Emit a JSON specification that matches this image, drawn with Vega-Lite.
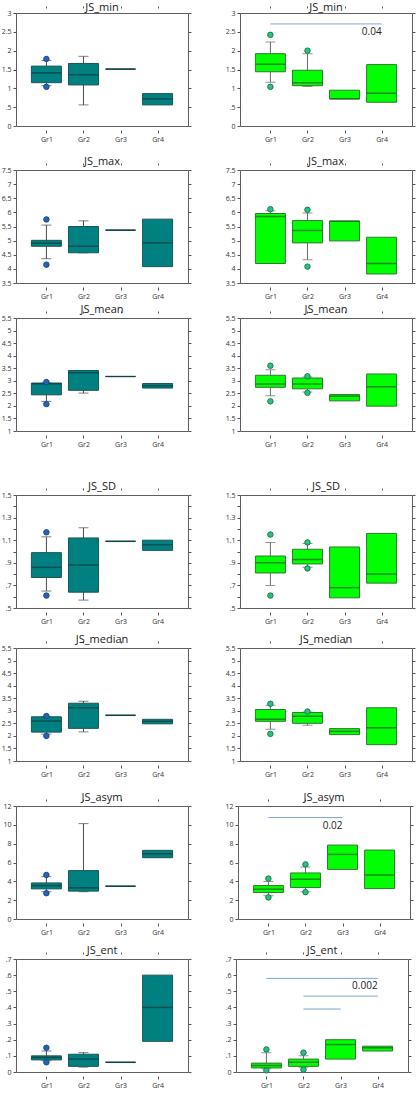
{
"$schema":"https://vega.github.io/schema/vega-lite/v6.json",
"padding":{"top":1,"left":0,"right":0,"bottom":0},
"datasets":{"d":[
{"k":"b","m":"JS_min","s":"L","g":"Gr1","lo":1.07,"q1":1.15,"med":1.41,"q3":1.59,"hi":1.74},
{"k":"b","m":"JS_min","s":"L","g":"Gr2","lo":0.56,"q1":1.09,"med":1.36,"q3":1.66,"hi":1.85},
{"k":"b","m":"JS_min","s":"L","g":"Gr3","q1":1.51,"med":1.51,"q3":1.51},
{"k":"b","m":"JS_min","s":"L","g":"Gr4","q1":0.56,"med":0.72,"q3":0.86},
{"k":"o","m":"JS_min","s":"L","g":"Gr1","v":1.78},
{"k":"o","m":"JS_min","s":"L","g":"Gr1","v":1.04},
{"k":"b","m":"JS_min","s":"R","g":"Gr1","lo":1.16,"q1":1.44,"med":1.64,"q3":1.92,"hi":2.23},
{"k":"b","m":"JS_min","s":"R","g":"Gr2","lo":1.05,"q1":1.07,"med":1.15,"q3":1.48,"hi":1.92},
{"k":"b","m":"JS_min","s":"R","g":"Gr3","q1":0.72,"med":0.72,"q3":0.95},
{"k":"b","m":"JS_min","s":"R","g":"Gr4","q1":0.63,"med":0.87,"q3":1.63},
{"k":"o","m":"JS_min","s":"R","g":"Gr1","v":2.42},
{"k":"o","m":"JS_min","s":"R","g":"Gr1","v":1.04},
{"k":"o","m":"JS_min","s":"R","g":"Gr2","v":2.0},
{"k":"s","m":"JS_min","s":"R","g":"Gr1","g2":"Gr4","y":2.71,"lab":"0.04"},

{"k":"b","m":"JS_max","s":"L","g":"Gr1","lo":4.36,"q1":4.80,"med":4.91,"q3":5.01,"hi":5.55},
{"k":"b","m":"JS_max","s":"L","g":"Gr2","lo":4.57,"q1":4.57,"med":4.80,"q3":5.50,"hi":5.70},
{"k":"b","m":"JS_max","s":"L","g":"Gr3","q1":5.37,"med":5.37,"q3":5.37},
{"k":"b","m":"JS_max","s":"L","g":"Gr4","q1":4.08,"med":4.92,"q3":5.76},
{"k":"o","m":"JS_max","s":"L","g":"Gr1","v":5.75},
{"k":"o","m":"JS_max","s":"L","g":"Gr1","v":4.15},
{"k":"b","m":"JS_max","s":"R","g":"Gr1","lo":4.19,"q1":4.19,"med":5.85,"q3":5.96,"hi":6.06},
{"k":"b","m":"JS_max","s":"R","g":"Gr2","lo":4.32,"q1":4.92,"med":5.36,"q3":5.71,"hi":5.98},
{"k":"b","m":"JS_max","s":"R","g":"Gr3","q1":4.99,"med":5.69,"q3":5.69},
{"k":"b","m":"JS_max","s":"R","g":"Gr4","q1":3.82,"med":4.19,"q3":5.12},
{"k":"o","m":"JS_max","s":"R","g":"Gr1","v":6.11},
{"k":"o","m":"JS_max","s":"R","g":"Gr2","v":6.09},
{"k":"o","m":"JS_max","s":"R","g":"Gr2","v":4.08},

{"k":"b","m":"JS_mean","s":"L","g":"Gr1","lo":2.18,"q1":2.44,"med":2.88,"q3":2.91,"hi":2.91},
{"k":"b","m":"JS_mean","s":"L","g":"Gr2","lo":2.51,"q1":2.62,"med":3.32,"q3":3.41,"hi":3.41},
{"k":"b","m":"JS_mean","s":"L","g":"Gr3","q1":3.17,"med":3.17,"q3":3.17},
{"k":"b","m":"JS_mean","s":"L","g":"Gr4","q1":2.71,"med":2.80,"q3":2.89},
{"k":"o","m":"JS_mean","s":"L","g":"Gr1","v":2.95},
{"k":"o","m":"JS_mean","s":"L","g":"Gr1","v":2.07},
{"k":"b","m":"JS_mean","s":"R","g":"Gr1","lo":2.40,"q1":2.74,"med":2.87,"q3":3.22,"hi":3.44},
{"k":"b","m":"JS_mean","s":"R","g":"Gr2","lo":2.55,"q1":2.68,"med":2.87,"q3":3.11,"hi":3.15},
{"k":"b","m":"JS_mean","s":"R","g":"Gr3","q1":2.20,"med":2.39,"q3":2.45},
{"k":"b","m":"JS_mean","s":"R","g":"Gr4","q1":1.99,"med":2.76,"q3":3.27},
{"k":"o","m":"JS_mean","s":"R","g":"Gr1","v":3.60},
{"k":"o","m":"JS_mean","s":"R","g":"Gr1","v":2.18},
{"k":"o","m":"JS_mean","s":"R","g":"Gr2","v":3.18},
{"k":"o","m":"JS_mean","s":"R","g":"Gr2","v":2.52},

{"k":"b","m":"JS_SD","s":"L","g":"Gr1","lo":0.65,"q1":0.77,"med":0.86,"q3":0.99,"hi":1.13},
{"k":"b","m":"JS_SD","s":"L","g":"Gr2","lo":0.57,"q1":0.64,"med":0.88,"q3":1.12,"hi":1.21},
{"k":"b","m":"JS_SD","s":"L","g":"Gr3","q1":1.09,"med":1.09,"q3":1.09},
{"k":"b","m":"JS_SD","s":"L","g":"Gr4","q1":1.01,"med":1.06,"q3":1.10},
{"k":"o","m":"JS_SD","s":"L","g":"Gr1","v":1.17},
{"k":"o","m":"JS_SD","s":"L","g":"Gr1","v":0.61},
{"k":"b","m":"JS_SD","s":"R","g":"Gr1","lo":0.70,"q1":0.81,"med":0.90,"q3":0.96,"hi":1.08},
{"k":"b","m":"JS_SD","s":"R","g":"Gr2","lo":0.86,"q1":0.89,"med":0.93,"q3":1.02,"hi":1.07},
{"k":"b","m":"JS_SD","s":"R","g":"Gr3","q1":0.59,"med":0.68,"q3":1.04},
{"k":"b","m":"JS_SD","s":"R","g":"Gr4","q1":0.72,"med":0.80,"q3":1.16},
{"k":"o","m":"JS_SD","s":"R","g":"Gr1","v":1.15},
{"k":"o","m":"JS_SD","s":"R","g":"Gr1","v":0.61},
{"k":"o","m":"JS_SD","s":"R","g":"Gr2","v":1.08},
{"k":"o","m":"JS_SD","s":"R","g":"Gr2","v":0.85},

{"k":"b","m":"JS_median","s":"L","g":"Gr1","lo":2.07,"q1":2.15,"med":2.59,"q3":2.76,"hi":2.76},
{"k":"b","m":"JS_median","s":"L","g":"Gr2","lo":2.16,"q1":2.30,"med":3.12,"q3":3.30,"hi":3.38},
{"k":"b","m":"JS_median","s":"L","g":"Gr3","q1":2.82,"med":2.82,"q3":2.82},
{"k":"b","m":"JS_median","s":"L","g":"Gr4","q1":2.48,"med":2.58,"q3":2.66},
{"k":"o","m":"JS_median","s":"L","g":"Gr1","v":2.79},
{"k":"o","m":"JS_median","s":"L","g":"Gr1","v":2.00},
{"k":"b","m":"JS_median","s":"R","g":"Gr1","lo":2.26,"q1":2.58,"med":2.66,"q3":3.05,"hi":3.22},
{"k":"b","m":"JS_median","s":"R","g":"Gr2","lo":2.42,"q1":2.50,"med":2.78,"q3":2.93,"hi":2.95},
{"k":"b","m":"JS_median","s":"R","g":"Gr3","q1":2.05,"med":2.18,"q3":2.29},
{"k":"b","m":"JS_median","s":"R","g":"Gr4","q1":1.65,"med":2.32,"q3":3.12},
{"k":"o","m":"JS_median","s":"R","g":"Gr1","v":3.28},
{"k":"o","m":"JS_median","s":"R","g":"Gr1","v":2.08},
{"k":"o","m":"JS_median","s":"R","g":"Gr2","v":2.97},

{"k":"b","m":"JS_asym","s":"L","g":"Gr1","lo":2.9,"q1":3.20,"med":3.55,"q3":3.83,"hi":4.5},
{"k":"b","m":"JS_asym","s":"L","g":"Gr2","lo":2.9,"q1":2.96,"med":3.31,"q3":5.14,"hi":10.13},
{"k":"b","m":"JS_asym","s":"L","g":"Gr3","q1":3.48,"med":3.48,"q3":3.48},
{"k":"b","m":"JS_asym","s":"L","g":"Gr4","q1":6.51,"med":6.93,"q3":7.29},
{"k":"o","m":"JS_asym","s":"L","g":"Gr1","v":4.68},
{"k":"o","m":"JS_asym","s":"L","g":"Gr1","v":2.74},
{"k":"b","m":"JS_asym","s":"R","g":"Gr1","lo":2.46,"q1":2.81,"med":3.16,"q3":3.55,"hi":3.97},
{"k":"b","m":"JS_asym","s":"R","g":"Gr2","lo":2.89,"q1":3.34,"med":4.22,"q3":4.89,"hi":5.52},
{"k":"b","m":"JS_asym","s":"R","g":"Gr3","q1":5.27,"med":6.86,"q3":7.85},
{"k":"b","m":"JS_asym","s":"R","g":"Gr4","q1":3.23,"med":4.68,"q3":7.32},
{"k":"o","m":"JS_asym","s":"R","g":"Gr1","v":4.29},
{"k":"o","m":"JS_asym","s":"R","g":"Gr1","v":2.29},
{"k":"o","m":"JS_asym","s":"R","g":"Gr2","v":5.80},
{"k":"o","m":"JS_asym","s":"R","g":"Gr2","v":2.85},
{"k":"s","m":"JS_asym","s":"R","g":"Gr1","g2":"Gr3","y":10.77,"lab":"0.02"},

{"k":"b","m":"JS_ent","s":"L","g":"Gr1","lo":0.07,"q1":0.075,"med":0.09,"q3":0.10,"hi":0.13},
{"k":"b","m":"JS_ent","s":"L","g":"Gr2","lo":0.03,"q1":0.035,"med":0.08,"q3":0.11,"hi":0.12},
{"k":"b","m":"JS_ent","s":"L","g":"Gr3","q1":0.06,"med":0.06,"q3":0.06},
{"k":"b","m":"JS_ent","s":"L","g":"Gr4","q1":0.19,"med":0.40,"q3":0.60},
{"k":"o","m":"JS_ent","s":"L","g":"Gr1","v":0.15},
{"k":"o","m":"JS_ent","s":"L","g":"Gr1","v":0.06},
{"k":"b","m":"JS_ent","s":"R","g":"Gr1","lo":0.02,"q1":0.025,"med":0.04,"q3":0.055,"hi":0.12},
{"k":"b","m":"JS_ent","s":"R","g":"Gr2","lo":0.03,"q1":0.035,"med":0.06,"q3":0.08,"hi":0.10},
{"k":"b","m":"JS_ent","s":"R","g":"Gr3","q1":0.08,"med":0.17,"q3":0.20},
{"k":"b","m":"JS_ent","s":"R","g":"Gr4","q1":0.13,"med":0.15,"q3":0.16},
{"k":"o","m":"JS_ent","s":"R","g":"Gr1","v":0.14},
{"k":"o","m":"JS_ent","s":"R","g":"Gr1","v":0.01},
{"k":"o","m":"JS_ent","s":"R","g":"Gr2","v":0.12},
{"k":"o","m":"JS_ent","s":"R","g":"Gr2","v":0.015},
{"k":"s","m":"JS_ent","s":"R","g":"Gr1","g2":"Gr4","y":0.58,"lab":"0.002"},
{"k":"s","m":"JS_ent","s":"R","g":"Gr2","g2":"Gr4","y":0.47,"lab":""},
{"k":"s","m":"JS_ent","s":"R","g":"Gr2","g2":"Gr3","y":0.39,"lab":""}
]},
"data":{"name":"d"},
"config":{
 "font":"Open Sans",
 "view":{"stroke":"#5f5f5f","strokeWidth":1},
 "axis":{"labelFontSize":7,"labelColor":"#333","tickColor":"#555","tickSize":3,"domain":false,"grid":false,"title":null,"labelPadding":2,"labelFont":"Open Sans"},
 "axisX":{"labelAngle":0},
 "header":{"labelFontSize":11,"labelFont":"Open Sans","labelColor":"#222","labelPadding":-4,"title":null}
},
"spacing":33,
"vconcat":[
{"spacing":4,"vconcat":[
{"spacing":13,"vconcat":[

{"transform":[{"filter":"datum.m==='JS_min'"}],
 "facet":{"column":{"field":"s","type":"nominal","title":null,"header":{"labelExpr":"'JS_min'","labelPadding":-7}}},
 "spacing":32,"resolve":{"axis":{"y":"independent"}},
 "spec":{"width":172,"height":113,"resolve":{"axis":{"x":"independent","y":"independent"}},
 "layer":[
  {"transform":[{"filter":"datum.k==='b' && isValid(datum.hi)"}],"mark":{"type":"rule","strokeWidth":1},
   "encoding":{"x":{"field":"g","type":"nominal","scale":{"type":"point","domain":["Gr1","Gr2","Gr3","Gr4"],"padding":0.82},"axis":null},"y":{"field":"lo","type":"quantitative","scale":{"domain":[0,3],"nice":false,"zero":false},"axis":null},"y2":{"field":"hi"},"color":{"condition":{"test":"datum.s==='L'","value":"#4a4a4a"},"value":"#6a6a6a"}}},
  {"transform":[{"filter":"datum.k==='b' && isValid(datum.hi)"},{"fold":["lo","hi"],"as":["w","wv"]}],"mark":{"type":"tick","size":10,"thickness":1},
   "encoding":{"x":{"field":"g","type":"nominal","scale":{"type":"point","domain":["Gr1","Gr2","Gr3","Gr4"],"padding":0.82},"axis":null},"y":{"field":"wv","type":"quantitative","scale":{"domain":[0,3],"nice":false,"zero":false},"axis":null},"color":{"condition":{"test":"datum.s==='L'","value":"#4a4a4a"},"value":"#6a6a6a"}}},
  {"transform":[{"filter":"datum.k==='b'"}],"mark":{"type":"bar","width":30,"strokeWidth":1},
   "encoding":{"x":{"field":"g","type":"nominal","scale":{"type":"point","domain":["Gr1","Gr2","Gr3","Gr4"],"padding":0.82},"axis":null},"y":{"field":"q1","type":"quantitative","scale":{"domain":[0,3],"nice":false,"zero":false},"axis":null},"y2":{"field":"q3"},"fill":{"condition":{"test":"datum.s==='L'","value":"#008080"},"value":"#00ff00"},"stroke":{"condition":{"test":"datum.s==='L'","value":"#1b5656"},"value":"#2f7a2f"}}},
  {"transform":[{"filter":"datum.k==='b'"}],"mark":{"type":"tick","size":30,"thickness":1.5},
   "encoding":{"x":{"field":"g","type":"nominal","scale":{"type":"point","domain":["Gr1","Gr2","Gr3","Gr4"],"padding":0.82},"axis":null},"y":{"field":"med","type":"quantitative","scale":{"domain":[0,3],"nice":false,"zero":false},"axis":null},"color":{"condition":{"test":"datum.s==='L'","value":"#0d3a3a"},"value":"#1c5a1c"}}},
  {"transform":[{"filter":"datum.k==='o'"}],"mark":{"type":"point","filled":true,"size":30,"strokeWidth":1,"opacity":1},
   "encoding":{"x":{"field":"g","type":"nominal","scale":{"type":"point","domain":["Gr1","Gr2","Gr3","Gr4"],"padding":0.82},"axis":null},"y":{"field":"v","type":"quantitative","scale":{"domain":[0,3],"nice":false,"zero":false},"axis":null},"fill":{"condition":{"test":"datum.s==='L'","value":"#2563b5"},"value":"#27c47f"},"stroke":{"condition":{"test":"datum.s==='L'","value":"#1a4a90"},"value":"#1a7a50"}}},
  {"transform":[{"filter":"datum.k==='s'"}],"mark":{"type":"rule","color":"#7da4d6","strokeWidth":1},
   "encoding":{"x":{"field":"g","type":"nominal","scale":{"type":"point","domain":["Gr1","Gr2","Gr3","Gr4"],"padding":0.82},"axis":null},"x2":{"field":"g2"},"y":{"field":"y","type":"quantitative","scale":{"domain":[0,3],"nice":false,"zero":false},"axis":null}}},
  {"transform":[{"filter":"datum.k==='s'"}],"mark":{"type":"text","align":"right","baseline":"top","dy":3,"fontSize":10,"color":"#222"},
   "encoding":{"x":{"field":"g2","type":"nominal","scale":{"type":"point","domain":["Gr1","Gr2","Gr3","Gr4"],"padding":0.82},"axis":null},"y":{"field":"y","type":"quantitative","scale":{"domain":[0,3],"nice":false,"zero":false},"axis":null},"text":{"field":"lab"}}},
  {"transform":[{"filter":"datum.k==='b'"}],"mark":{"type":"tick","opacity":0},
   "encoding":{"x":{"field":"g","type":"nominal","scale":{"type":"point","domain":["Gr1","Gr2","Gr3","Gr4"],"padding":0.82},"axis":{"orient":"bottom"}},"y":{"field":"med","type":"quantitative","scale":{"domain":[0,3],"nice":false,"zero":false},"axis":{"orient":"left","values":[0,0.5,1,1.5,2,2.5,3],"format":"~g","labelExpr":"datum.value>0 && datum.value<1 ? replace(datum.label,'0.','.') : datum.label"}}}},
  {"transform":[{"filter":"datum.k==='b'"}],"mark":{"type":"tick","opacity":0},
   "encoding":{"x":{"field":"g","type":"nominal","scale":{"type":"point","domain":["Gr1","Gr2","Gr3","Gr4"],"padding":0.82},"axis":{"orient":"top","labels":false,"tickSize":2}},"y":{"field":"med","type":"quantitative","scale":{"domain":[0,3],"nice":false,"zero":false},"axis":{"orient":"right","labels":false,"values":[0,0.5,1,1.5,2,2.5,3]}}}}
 ]}},

{"transform":[{"filter":"datum.m==='JS_max'"}],
 "facet":{"column":{"field":"s","type":"nominal","title":null,"header":{"labelExpr":"'JS_max'"}}},
 "spacing":32,"resolve":{"axis":{"y":"independent"}},
 "spec":{"width":172,"height":113,"resolve":{"axis":{"x":"independent","y":"independent"}},
 "layer":[
  {"transform":[{"filter":"datum.k==='b' && isValid(datum.hi)"}],"mark":{"type":"rule","strokeWidth":1},
   "encoding":{"x":{"field":"g","type":"nominal","scale":{"type":"point","domain":["Gr1","Gr2","Gr3","Gr4"],"padding":0.82},"axis":null},"y":{"field":"lo","type":"quantitative","scale":{"domain":[3.5,7.5],"nice":false,"zero":false},"axis":null},"y2":{"field":"hi"},"color":{"condition":{"test":"datum.s==='L'","value":"#4a4a4a"},"value":"#6a6a6a"}}},
  {"transform":[{"filter":"datum.k==='b' && isValid(datum.hi)"},{"fold":["lo","hi"],"as":["w","wv"]}],"mark":{"type":"tick","size":10,"thickness":1},
   "encoding":{"x":{"field":"g","type":"nominal","scale":{"type":"point","domain":["Gr1","Gr2","Gr3","Gr4"],"padding":0.82},"axis":null},"y":{"field":"wv","type":"quantitative","scale":{"domain":[3.5,7.5],"nice":false,"zero":false},"axis":null},"color":{"condition":{"test":"datum.s==='L'","value":"#4a4a4a"},"value":"#6a6a6a"}}},
  {"transform":[{"filter":"datum.k==='b'"}],"mark":{"type":"bar","width":30,"strokeWidth":1},
   "encoding":{"x":{"field":"g","type":"nominal","scale":{"type":"point","domain":["Gr1","Gr2","Gr3","Gr4"],"padding":0.82},"axis":null},"y":{"field":"q1","type":"quantitative","scale":{"domain":[3.5,7.5],"nice":false,"zero":false},"axis":null},"y2":{"field":"q3"},"fill":{"condition":{"test":"datum.s==='L'","value":"#008080"},"value":"#00ff00"},"stroke":{"condition":{"test":"datum.s==='L'","value":"#1b5656"},"value":"#2f7a2f"}}},
  {"transform":[{"filter":"datum.k==='b'"}],"mark":{"type":"tick","size":30,"thickness":1.5},
   "encoding":{"x":{"field":"g","type":"nominal","scale":{"type":"point","domain":["Gr1","Gr2","Gr3","Gr4"],"padding":0.82},"axis":null},"y":{"field":"med","type":"quantitative","scale":{"domain":[3.5,7.5],"nice":false,"zero":false},"axis":null},"color":{"condition":{"test":"datum.s==='L'","value":"#0d3a3a"},"value":"#1c5a1c"}}},
  {"transform":[{"filter":"datum.k==='o'"}],"mark":{"type":"point","filled":true,"size":30,"strokeWidth":1,"opacity":1},
   "encoding":{"x":{"field":"g","type":"nominal","scale":{"type":"point","domain":["Gr1","Gr2","Gr3","Gr4"],"padding":0.82},"axis":null},"y":{"field":"v","type":"quantitative","scale":{"domain":[3.5,7.5],"nice":false,"zero":false},"axis":null},"fill":{"condition":{"test":"datum.s==='L'","value":"#2563b5"},"value":"#27c47f"},"stroke":{"condition":{"test":"datum.s==='L'","value":"#1a4a90"},"value":"#1a7a50"}}},
  {"transform":[{"filter":"datum.k==='b'"}],"mark":{"type":"tick","opacity":0},
   "encoding":{"x":{"field":"g","type":"nominal","scale":{"type":"point","domain":["Gr1","Gr2","Gr3","Gr4"],"padding":0.82},"axis":{"orient":"bottom"}},"y":{"field":"med","type":"quantitative","scale":{"domain":[3.5,7.5],"nice":false,"zero":false},"axis":{"orient":"left","values":[3.5,4,4.5,5,5.5,6,6.5,7,7.5],"format":"~g"}}}},
  {"transform":[{"filter":"datum.k==='b'"}],"mark":{"type":"tick","opacity":0},
   "encoding":{"x":{"field":"g","type":"nominal","scale":{"type":"point","domain":["Gr1","Gr2","Gr3","Gr4"],"padding":0.82},"axis":{"orient":"top","labels":false,"tickSize":2}},"y":{"field":"med","type":"quantitative","scale":{"domain":[3.5,7.5],"nice":false,"zero":false},"axis":{"orient":"right","labels":false,"values":[3.5,4,4.5,5,5.5,6,6.5,7,7.5]}}}}
 ]}}
]},

{"transform":[{"filter":"datum.m==='JS_mean'"}],
 "facet":{"column":{"field":"s","type":"nominal","title":null,"header":{"labelExpr":"'JS_mean'"}}},
 "spacing":32,"resolve":{"axis":{"y":"independent"}},
 "spec":{"width":172,"height":113,"resolve":{"axis":{"x":"independent","y":"independent"}},
 "layer":[
  {"transform":[{"filter":"datum.k==='b' && isValid(datum.hi)"}],"mark":{"type":"rule","strokeWidth":1},
   "encoding":{"x":{"field":"g","type":"nominal","scale":{"type":"point","domain":["Gr1","Gr2","Gr3","Gr4"],"padding":0.82},"axis":null},"y":{"field":"lo","type":"quantitative","scale":{"domain":[1,5.5],"nice":false,"zero":false},"axis":null},"y2":{"field":"hi"},"color":{"condition":{"test":"datum.s==='L'","value":"#4a4a4a"},"value":"#6a6a6a"}}},
  {"transform":[{"filter":"datum.k==='b' && isValid(datum.hi)"},{"fold":["lo","hi"],"as":["w","wv"]}],"mark":{"type":"tick","size":10,"thickness":1},
   "encoding":{"x":{"field":"g","type":"nominal","scale":{"type":"point","domain":["Gr1","Gr2","Gr3","Gr4"],"padding":0.82},"axis":null},"y":{"field":"wv","type":"quantitative","scale":{"domain":[1,5.5],"nice":false,"zero":false},"axis":null},"color":{"condition":{"test":"datum.s==='L'","value":"#4a4a4a"},"value":"#6a6a6a"}}},
  {"transform":[{"filter":"datum.k==='b'"}],"mark":{"type":"bar","width":30,"strokeWidth":1},
   "encoding":{"x":{"field":"g","type":"nominal","scale":{"type":"point","domain":["Gr1","Gr2","Gr3","Gr4"],"padding":0.82},"axis":null},"y":{"field":"q1","type":"quantitative","scale":{"domain":[1,5.5],"nice":false,"zero":false},"axis":null},"y2":{"field":"q3"},"fill":{"condition":{"test":"datum.s==='L'","value":"#008080"},"value":"#00ff00"},"stroke":{"condition":{"test":"datum.s==='L'","value":"#1b5656"},"value":"#2f7a2f"}}},
  {"transform":[{"filter":"datum.k==='b'"}],"mark":{"type":"tick","size":30,"thickness":1.5},
   "encoding":{"x":{"field":"g","type":"nominal","scale":{"type":"point","domain":["Gr1","Gr2","Gr3","Gr4"],"padding":0.82},"axis":null},"y":{"field":"med","type":"quantitative","scale":{"domain":[1,5.5],"nice":false,"zero":false},"axis":null},"color":{"condition":{"test":"datum.s==='L'","value":"#0d3a3a"},"value":"#1c5a1c"}}},
  {"transform":[{"filter":"datum.k==='o'"}],"mark":{"type":"point","filled":true,"size":30,"strokeWidth":1,"opacity":1},
   "encoding":{"x":{"field":"g","type":"nominal","scale":{"type":"point","domain":["Gr1","Gr2","Gr3","Gr4"],"padding":0.82},"axis":null},"y":{"field":"v","type":"quantitative","scale":{"domain":[1,5.5],"nice":false,"zero":false},"axis":null},"fill":{"condition":{"test":"datum.s==='L'","value":"#2563b5"},"value":"#27c47f"},"stroke":{"condition":{"test":"datum.s==='L'","value":"#1a4a90"},"value":"#1a7a50"}}},
  {"transform":[{"filter":"datum.k==='b'"}],"mark":{"type":"tick","opacity":0},
   "encoding":{"x":{"field":"g","type":"nominal","scale":{"type":"point","domain":["Gr1","Gr2","Gr3","Gr4"],"padding":0.82},"axis":{"orient":"bottom"}},"y":{"field":"med","type":"quantitative","scale":{"domain":[1,5.5],"nice":false,"zero":false},"axis":{"orient":"left","values":[1,1.5,2,2.5,3,3.5,4,4.5,5,5.5],"format":"~g"}}}},
  {"transform":[{"filter":"datum.k==='b'"}],"mark":{"type":"tick","opacity":0},
   "encoding":{"x":{"field":"g","type":"nominal","scale":{"type":"point","domain":["Gr1","Gr2","Gr3","Gr4"],"padding":0.82},"axis":{"orient":"top","labels":false,"tickSize":2}},"y":{"field":"med","type":"quantitative","scale":{"domain":[1,5.5],"nice":false,"zero":false},"axis":{"orient":"right","labels":false,"values":[1,1.5,2,2.5,3,3.5,4,4.5,5,5.5]}}}}
 ]}}
]},

{"spacing":9,"vconcat":[

{"transform":[{"filter":"datum.m==='JS_SD'"}],
 "facet":{"column":{"field":"s","type":"nominal","title":null,"header":{"labelExpr":"'JS_SD'"}}},
 "spacing":32,"resolve":{"axis":{"y":"independent"}},
 "spec":{"width":172,"height":113,"resolve":{"axis":{"x":"independent","y":"independent"}},
 "layer":[
  {"transform":[{"filter":"datum.k==='b' && isValid(datum.hi)"}],"mark":{"type":"rule","strokeWidth":1},
   "encoding":{"x":{"field":"g","type":"nominal","scale":{"type":"point","domain":["Gr1","Gr2","Gr3","Gr4"],"padding":0.82},"axis":null},"y":{"field":"lo","type":"quantitative","scale":{"domain":[0.5,1.5],"nice":false,"zero":false},"axis":null},"y2":{"field":"hi"},"color":{"condition":{"test":"datum.s==='L'","value":"#4a4a4a"},"value":"#6a6a6a"}}},
  {"transform":[{"filter":"datum.k==='b' && isValid(datum.hi)"},{"fold":["lo","hi"],"as":["w","wv"]}],"mark":{"type":"tick","size":10,"thickness":1},
   "encoding":{"x":{"field":"g","type":"nominal","scale":{"type":"point","domain":["Gr1","Gr2","Gr3","Gr4"],"padding":0.82},"axis":null},"y":{"field":"wv","type":"quantitative","scale":{"domain":[0.5,1.5],"nice":false,"zero":false},"axis":null},"color":{"condition":{"test":"datum.s==='L'","value":"#4a4a4a"},"value":"#6a6a6a"}}},
  {"transform":[{"filter":"datum.k==='b'"}],"mark":{"type":"bar","width":30,"strokeWidth":1},
   "encoding":{"x":{"field":"g","type":"nominal","scale":{"type":"point","domain":["Gr1","Gr2","Gr3","Gr4"],"padding":0.82},"axis":null},"y":{"field":"q1","type":"quantitative","scale":{"domain":[0.5,1.5],"nice":false,"zero":false},"axis":null},"y2":{"field":"q3"},"fill":{"condition":{"test":"datum.s==='L'","value":"#008080"},"value":"#00ff00"},"stroke":{"condition":{"test":"datum.s==='L'","value":"#1b5656"},"value":"#2f7a2f"}}},
  {"transform":[{"filter":"datum.k==='b'"}],"mark":{"type":"tick","size":30,"thickness":1.5},
   "encoding":{"x":{"field":"g","type":"nominal","scale":{"type":"point","domain":["Gr1","Gr2","Gr3","Gr4"],"padding":0.82},"axis":null},"y":{"field":"med","type":"quantitative","scale":{"domain":[0.5,1.5],"nice":false,"zero":false},"axis":null},"color":{"condition":{"test":"datum.s==='L'","value":"#0d3a3a"},"value":"#1c5a1c"}}},
  {"transform":[{"filter":"datum.k==='o'"}],"mark":{"type":"point","filled":true,"size":30,"strokeWidth":1,"opacity":1},
   "encoding":{"x":{"field":"g","type":"nominal","scale":{"type":"point","domain":["Gr1","Gr2","Gr3","Gr4"],"padding":0.82},"axis":null},"y":{"field":"v","type":"quantitative","scale":{"domain":[0.5,1.5],"nice":false,"zero":false},"axis":null},"fill":{"condition":{"test":"datum.s==='L'","value":"#2563b5"},"value":"#27c47f"},"stroke":{"condition":{"test":"datum.s==='L'","value":"#1a4a90"},"value":"#1a7a50"}}},
  {"transform":[{"filter":"datum.k==='b'"}],"mark":{"type":"tick","opacity":0},
   "encoding":{"x":{"field":"g","type":"nominal","scale":{"type":"point","domain":["Gr1","Gr2","Gr3","Gr4"],"padding":0.82},"axis":{"orient":"bottom"}},"y":{"field":"med","type":"quantitative","scale":{"domain":[0.5,1.5],"nice":false,"zero":false},"axis":{"orient":"left","values":[0.5,0.6,0.7,0.8,0.9,1,1.1,1.2,1.3,1.4,1.5],"format":"~g","labelExpr":"round(datum.value*10) % 2 == 1 ? (datum.value<1 ? replace(datum.label,'0.','.') : datum.label) : ''"}}}},
  {"transform":[{"filter":"datum.k==='b'"}],"mark":{"type":"tick","opacity":0},
   "encoding":{"x":{"field":"g","type":"nominal","scale":{"type":"point","domain":["Gr1","Gr2","Gr3","Gr4"],"padding":0.82},"axis":{"orient":"top","labels":false,"tickSize":2}},"y":{"field":"med","type":"quantitative","scale":{"domain":[0.5,1.5],"nice":false,"zero":false},"axis":{"orient":"right","labels":false,"values":[0.5,0.6,0.7,0.8,0.9,1,1.1,1.2,1.3,1.4,1.5]}}}}
 ]}},

{"spacing":14,"vconcat":[

{"transform":[{"filter":"datum.m==='JS_median'"}],
 "facet":{"column":{"field":"s","type":"nominal","title":null,"header":{"labelExpr":"'JS_median'"}}},
 "spacing":32,"resolve":{"axis":{"y":"independent"}},
 "spec":{"width":172,"height":113,"resolve":{"axis":{"x":"independent","y":"independent"}},
 "layer":[
  {"transform":[{"filter":"datum.k==='b' && isValid(datum.hi)"}],"mark":{"type":"rule","strokeWidth":1},
   "encoding":{"x":{"field":"g","type":"nominal","scale":{"type":"point","domain":["Gr1","Gr2","Gr3","Gr4"],"padding":0.82},"axis":null},"y":{"field":"lo","type":"quantitative","scale":{"domain":[1,5.5],"nice":false,"zero":false},"axis":null},"y2":{"field":"hi"},"color":{"condition":{"test":"datum.s==='L'","value":"#4a4a4a"},"value":"#6a6a6a"}}},
  {"transform":[{"filter":"datum.k==='b' && isValid(datum.hi)"},{"fold":["lo","hi"],"as":["w","wv"]}],"mark":{"type":"tick","size":10,"thickness":1},
   "encoding":{"x":{"field":"g","type":"nominal","scale":{"type":"point","domain":["Gr1","Gr2","Gr3","Gr4"],"padding":0.82},"axis":null},"y":{"field":"wv","type":"quantitative","scale":{"domain":[1,5.5],"nice":false,"zero":false},"axis":null},"color":{"condition":{"test":"datum.s==='L'","value":"#4a4a4a"},"value":"#6a6a6a"}}},
  {"transform":[{"filter":"datum.k==='b'"}],"mark":{"type":"bar","width":30,"strokeWidth":1},
   "encoding":{"x":{"field":"g","type":"nominal","scale":{"type":"point","domain":["Gr1","Gr2","Gr3","Gr4"],"padding":0.82},"axis":null},"y":{"field":"q1","type":"quantitative","scale":{"domain":[1,5.5],"nice":false,"zero":false},"axis":null},"y2":{"field":"q3"},"fill":{"condition":{"test":"datum.s==='L'","value":"#008080"},"value":"#00ff00"},"stroke":{"condition":{"test":"datum.s==='L'","value":"#1b5656"},"value":"#2f7a2f"}}},
  {"transform":[{"filter":"datum.k==='b'"}],"mark":{"type":"tick","size":30,"thickness":1.5},
   "encoding":{"x":{"field":"g","type":"nominal","scale":{"type":"point","domain":["Gr1","Gr2","Gr3","Gr4"],"padding":0.82},"axis":null},"y":{"field":"med","type":"quantitative","scale":{"domain":[1,5.5],"nice":false,"zero":false},"axis":null},"color":{"condition":{"test":"datum.s==='L'","value":"#0d3a3a"},"value":"#1c5a1c"}}},
  {"transform":[{"filter":"datum.k==='o'"}],"mark":{"type":"point","filled":true,"size":30,"strokeWidth":1,"opacity":1},
   "encoding":{"x":{"field":"g","type":"nominal","scale":{"type":"point","domain":["Gr1","Gr2","Gr3","Gr4"],"padding":0.82},"axis":null},"y":{"field":"v","type":"quantitative","scale":{"domain":[1,5.5],"nice":false,"zero":false},"axis":null},"fill":{"condition":{"test":"datum.s==='L'","value":"#2563b5"},"value":"#27c47f"},"stroke":{"condition":{"test":"datum.s==='L'","value":"#1a4a90"},"value":"#1a7a50"}}},
  {"transform":[{"filter":"datum.k==='b'"}],"mark":{"type":"tick","opacity":0},
   "encoding":{"x":{"field":"g","type":"nominal","scale":{"type":"point","domain":["Gr1","Gr2","Gr3","Gr4"],"padding":0.82},"axis":{"orient":"bottom"}},"y":{"field":"med","type":"quantitative","scale":{"domain":[1,5.5],"nice":false,"zero":false},"axis":{"orient":"left","values":[1,1.5,2,2.5,3,3.5,4,4.5,5,5.5],"format":"~g"}}}},
  {"transform":[{"filter":"datum.k==='b'"}],"mark":{"type":"tick","opacity":0},
   "encoding":{"x":{"field":"g","type":"nominal","scale":{"type":"point","domain":["Gr1","Gr2","Gr3","Gr4"],"padding":0.82},"axis":{"orient":"top","labels":false,"tickSize":2}},"y":{"field":"med","type":"quantitative","scale":{"domain":[1,5.5],"nice":false,"zero":false},"axis":{"orient":"right","labels":false,"values":[1,1.5,2,2.5,3,3.5,4,4.5,5,5.5]}}}}
 ]}},

{"transform":[{"filter":"datum.m==='JS_asym'"}],
 "facet":{"column":{"field":"s","type":"nominal","title":null,"header":{"labelExpr":"'JS_asym'"}}},
 "spacing":32,"resolve":{"axis":{"y":"independent"}},
 "spec":{"width":172,"height":113,"resolve":{"axis":{"x":"independent","y":"independent"}},
 "layer":[
  {"transform":[{"filter":"datum.k==='b' && isValid(datum.hi)"}],"mark":{"type":"rule","strokeWidth":1},
   "encoding":{"x":{"field":"g","type":"nominal","scale":{"type":"point","domain":["Gr1","Gr2","Gr3","Gr4"],"padding":0.82},"axis":null},"y":{"field":"lo","type":"quantitative","scale":{"domain":[0,12],"nice":false,"zero":false},"axis":null},"y2":{"field":"hi"},"color":{"condition":{"test":"datum.s==='L'","value":"#4a4a4a"},"value":"#6a6a6a"}}},
  {"transform":[{"filter":"datum.k==='b' && isValid(datum.hi)"},{"fold":["lo","hi"],"as":["w","wv"]}],"mark":{"type":"tick","size":10,"thickness":1},
   "encoding":{"x":{"field":"g","type":"nominal","scale":{"type":"point","domain":["Gr1","Gr2","Gr3","Gr4"],"padding":0.82},"axis":null},"y":{"field":"wv","type":"quantitative","scale":{"domain":[0,12],"nice":false,"zero":false},"axis":null},"color":{"condition":{"test":"datum.s==='L'","value":"#4a4a4a"},"value":"#6a6a6a"}}},
  {"transform":[{"filter":"datum.k==='b'"}],"mark":{"type":"bar","width":30,"strokeWidth":1},
   "encoding":{"x":{"field":"g","type":"nominal","scale":{"type":"point","domain":["Gr1","Gr2","Gr3","Gr4"],"padding":0.82},"axis":null},"y":{"field":"q1","type":"quantitative","scale":{"domain":[0,12],"nice":false,"zero":false},"axis":null},"y2":{"field":"q3"},"fill":{"condition":{"test":"datum.s==='L'","value":"#008080"},"value":"#00ff00"},"stroke":{"condition":{"test":"datum.s==='L'","value":"#1b5656"},"value":"#2f7a2f"}}},
  {"transform":[{"filter":"datum.k==='b'"}],"mark":{"type":"tick","size":30,"thickness":1.5},
   "encoding":{"x":{"field":"g","type":"nominal","scale":{"type":"point","domain":["Gr1","Gr2","Gr3","Gr4"],"padding":0.82},"axis":null},"y":{"field":"med","type":"quantitative","scale":{"domain":[0,12],"nice":false,"zero":false},"axis":null},"color":{"condition":{"test":"datum.s==='L'","value":"#0d3a3a"},"value":"#1c5a1c"}}},
  {"transform":[{"filter":"datum.k==='o'"}],"mark":{"type":"point","filled":true,"size":30,"strokeWidth":1,"opacity":1},
   "encoding":{"x":{"field":"g","type":"nominal","scale":{"type":"point","domain":["Gr1","Gr2","Gr3","Gr4"],"padding":0.82},"axis":null},"y":{"field":"v","type":"quantitative","scale":{"domain":[0,12],"nice":false,"zero":false},"axis":null},"fill":{"condition":{"test":"datum.s==='L'","value":"#2563b5"},"value":"#27c47f"},"stroke":{"condition":{"test":"datum.s==='L'","value":"#1a4a90"},"value":"#1a7a50"}}},
  {"transform":[{"filter":"datum.k==='s'"}],"mark":{"type":"rule","color":"#7da4d6","strokeWidth":1},
   "encoding":{"x":{"field":"g","type":"nominal","scale":{"type":"point","domain":["Gr1","Gr2","Gr3","Gr4"],"padding":0.82},"axis":null},"x2":{"field":"g2"},"y":{"field":"y","type":"quantitative","scale":{"domain":[0,12],"nice":false,"zero":false},"axis":null}}},
  {"transform":[{"filter":"datum.k==='s'"}],"mark":{"type":"text","align":"right","baseline":"top","dy":3,"fontSize":10,"color":"#222"},
   "encoding":{"x":{"field":"g2","type":"nominal","scale":{"type":"point","domain":["Gr1","Gr2","Gr3","Gr4"],"padding":0.82},"axis":null},"y":{"field":"y","type":"quantitative","scale":{"domain":[0,12],"nice":false,"zero":false},"axis":null},"text":{"field":"lab"}}},
  {"transform":[{"filter":"datum.k==='b'"}],"mark":{"type":"tick","opacity":0},
   "encoding":{"x":{"field":"g","type":"nominal","scale":{"type":"point","domain":["Gr1","Gr2","Gr3","Gr4"],"padding":0.82},"axis":{"orient":"bottom"}},"y":{"field":"med","type":"quantitative","scale":{"domain":[0,12],"nice":false,"zero":false},"axis":{"orient":"left","values":[0,2,4,6,8,10,12],"format":"~g"}}}},
  {"transform":[{"filter":"datum.k==='b'"}],"mark":{"type":"tick","opacity":0},
   "encoding":{"x":{"field":"g","type":"nominal","scale":{"type":"point","domain":["Gr1","Gr2","Gr3","Gr4"],"padding":0.82},"axis":{"orient":"top","labels":false,"tickSize":2}},"y":{"field":"med","type":"quantitative","scale":{"domain":[0,12],"nice":false,"zero":false},"axis":{"orient":"right","labels":false,"values":[0,2,4,6,8,10,12]}}}}
 ]}}
]},

{"transform":[{"filter":"datum.m==='JS_ent'"}],
 "facet":{"column":{"field":"s","type":"nominal","title":null,"header":{"labelExpr":"'JS_ent'"}}},
 "spacing":32,"resolve":{"axis":{"y":"independent"}},
 "spec":{"width":172,"height":113,"resolve":{"axis":{"x":"independent","y":"independent"}},
 "layer":[
  {"transform":[{"filter":"datum.k==='b' && isValid(datum.hi)"}],"mark":{"type":"rule","strokeWidth":1},
   "encoding":{"x":{"field":"g","type":"nominal","scale":{"type":"point","domain":["Gr1","Gr2","Gr3","Gr4"],"padding":0.82},"axis":null},"y":{"field":"lo","type":"quantitative","scale":{"domain":[0,0.7],"nice":false,"zero":false},"axis":null},"y2":{"field":"hi"},"color":{"condition":{"test":"datum.s==='L'","value":"#4a4a4a"},"value":"#6a6a6a"}}},
  {"transform":[{"filter":"datum.k==='b' && isValid(datum.hi)"},{"fold":["lo","hi"],"as":["w","wv"]}],"mark":{"type":"tick","size":10,"thickness":1},
   "encoding":{"x":{"field":"g","type":"nominal","scale":{"type":"point","domain":["Gr1","Gr2","Gr3","Gr4"],"padding":0.82},"axis":null},"y":{"field":"wv","type":"quantitative","scale":{"domain":[0,0.7],"nice":false,"zero":false},"axis":null},"color":{"condition":{"test":"datum.s==='L'","value":"#4a4a4a"},"value":"#6a6a6a"}}},
  {"transform":[{"filter":"datum.k==='b'"}],"mark":{"type":"bar","width":30,"strokeWidth":1},
   "encoding":{"x":{"field":"g","type":"nominal","scale":{"type":"point","domain":["Gr1","Gr2","Gr3","Gr4"],"padding":0.82},"axis":null},"y":{"field":"q1","type":"quantitative","scale":{"domain":[0,0.7],"nice":false,"zero":false},"axis":null},"y2":{"field":"q3"},"fill":{"condition":{"test":"datum.s==='L'","value":"#008080"},"value":"#00ff00"},"stroke":{"condition":{"test":"datum.s==='L'","value":"#1b5656"},"value":"#2f7a2f"}}},
  {"transform":[{"filter":"datum.k==='b'"}],"mark":{"type":"tick","size":30,"thickness":1.5},
   "encoding":{"x":{"field":"g","type":"nominal","scale":{"type":"point","domain":["Gr1","Gr2","Gr3","Gr4"],"padding":0.82},"axis":null},"y":{"field":"med","type":"quantitative","scale":{"domain":[0,0.7],"nice":false,"zero":false},"axis":null},"color":{"condition":{"test":"datum.s==='L'","value":"#0d3a3a"},"value":"#1c5a1c"}}},
  {"transform":[{"filter":"datum.k==='o'"}],"mark":{"type":"point","filled":true,"size":30,"strokeWidth":1,"opacity":1},
   "encoding":{"x":{"field":"g","type":"nominal","scale":{"type":"point","domain":["Gr1","Gr2","Gr3","Gr4"],"padding":0.82},"axis":null},"y":{"field":"v","type":"quantitative","scale":{"domain":[0,0.7],"nice":false,"zero":false},"axis":null},"fill":{"condition":{"test":"datum.s==='L'","value":"#2563b5"},"value":"#27c47f"},"stroke":{"condition":{"test":"datum.s==='L'","value":"#1a4a90"},"value":"#1a7a50"}}},
  {"transform":[{"filter":"datum.k==='s'"}],"mark":{"type":"rule","color":"#7da4d6","strokeWidth":1},
   "encoding":{"x":{"field":"g","type":"nominal","scale":{"type":"point","domain":["Gr1","Gr2","Gr3","Gr4"],"padding":0.82},"axis":null},"x2":{"field":"g2"},"y":{"field":"y","type":"quantitative","scale":{"domain":[0,0.7],"nice":false,"zero":false},"axis":null}}},
  {"transform":[{"filter":"datum.k==='s'"}],"mark":{"type":"text","align":"right","baseline":"top","dy":3,"fontSize":10,"color":"#222"},
   "encoding":{"x":{"field":"g2","type":"nominal","scale":{"type":"point","domain":["Gr1","Gr2","Gr3","Gr4"],"padding":0.82},"axis":null},"y":{"field":"y","type":"quantitative","scale":{"domain":[0,0.7],"nice":false,"zero":false},"axis":null},"text":{"field":"lab"}}},
  {"transform":[{"filter":"datum.k==='b'"}],"mark":{"type":"tick","opacity":0},
   "encoding":{"x":{"field":"g","type":"nominal","scale":{"type":"point","domain":["Gr1","Gr2","Gr3","Gr4"],"padding":0.82},"axis":{"orient":"bottom"}},"y":{"field":"med","type":"quantitative","scale":{"domain":[0,0.7],"nice":false,"zero":false},"axis":{"orient":"left","values":[0,0.1,0.2,0.3,0.4,0.5,0.6,0.7],"format":"~g","labelExpr":"datum.value>0 && datum.value<1 ? replace(datum.label,'0.','.') : datum.label"}}}},
  {"transform":[{"filter":"datum.k==='b'"}],"mark":{"type":"tick","opacity":0},
   "encoding":{"x":{"field":"g","type":"nominal","scale":{"type":"point","domain":["Gr1","Gr2","Gr3","Gr4"],"padding":0.82},"axis":{"orient":"top","labels":false,"tickSize":2}},"y":{"field":"med","type":"quantitative","scale":{"domain":[0,0.7],"nice":false,"zero":false},"axis":{"orient":"right","labels":false,"values":[0,0.1,0.2,0.3,0.4,0.5,0.6,0.7]}}}}
 ]}}
]}
]
}
